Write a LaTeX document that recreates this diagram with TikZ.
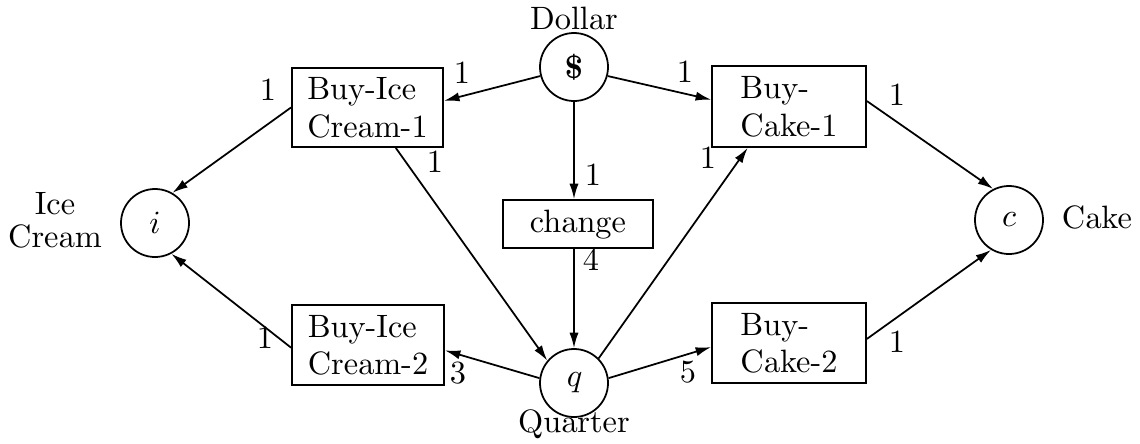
\documentclass[tikz,border=0pt]{standalone}
\usetikzlibrary{arrows.meta,calc}
\font\cmrbig=cmr10 at 23pt
\font\cmmibig=cmmi10 at 23pt
\font\cmbxbig=cmbx10 at 23pt
\begin{document}
\begin{tikzpicture}[x=0.025cm,y=-0.025cm,
  every node/.style={font={\fontsize{23}{26.5}\selectfont\cmrbig}},
  place/.style={draw,circle,line width=1.25pt,minimum size=1.7cm,inner sep=0pt},
  trans/.style={draw,rectangle,line width=1.25pt,align=left,inner sep=0pt},
  arc/.style={line width=1.25pt,-{Latex[length=11pt,width=6.5pt]}},
  lab/.style={anchor=base,inner sep=0pt}]
\useasboundingbox (0,0) rectangle (1140,443);
% places
\node[place] (dollar) at (574,67) {\cmbxbig\char36};
\node[place] (i) at (155,223) {\cmmibig i};
\node[place] (c) at (1009,220) {\cmmibig c};
\node[place] (q) at (574,383) {\cmmibig q};
% place labels
\node[lab] (ldollar) at (574,29) {Dollar};
\node[lab] (lquarter) at (574,432) {Quarter};
\node[lab,align=center,font={\fontsize{23}{23}\selectfont\cmrbig}] (lice) at (55,247) {Ice\\Cream};
\node[lab] (lcake) at (1097,228) {Cake};
% transitions
\node[trans,minimum width=3.78cm,minimum height=1.98cm] (bi1) at (367.5,107.5) {Buy-Ice\\Cream-1};
\node[trans,minimum width=3.85cm,minimum height=2.02cm] (bc1) at (789,106.5) {Buy-\\Cake-1};
\node[trans,minimum width=3.75cm,minimum height=1.2cm,align=center] (change) at (578,224) {change};
\node[trans,minimum width=3.8cm,minimum height=2cm] (bi2) at (368,345) {Buy-Ice\\Cream-2};
\node[trans,minimum width=3.85cm,minimum height=2cm] (bc2) at (789,343) {Buy-\\Cake-2};
% arcs
\draw[arc] (dollar.195) -- (bi1.5);
\draw[arc] (dollar.-15) -- (bc1.175);
\draw[arc] (dollar.south) -- (dollar.south |- change.north);
\draw[arc] (dollar.south |- change.south) -- (q.north);
\draw[arc] (bi1.-55) -- (q.140);
\draw[arc] (q.45) -- (bc1.-135);
\draw[arc] (q.172) -- (bi2.-4);
\draw[arc] (q.8) -- (bc2.183);
\draw[arc] (bi1.west) -- (i.60);
\draw[arc] (bi2.182) -- (i.-62);
\draw[arc] (bc1.4) -- (c.117);
\draw[arc] (bc2.3) -- (c.239);
% weights
\node[lab] (w1) at (462,83) {1};
\node[lab] (w2) at (268,100) {1};
\node[lab] (w3) at (435,172) {1};
\node[lab] (w4) at (685,82) {1};
\node[lab] (w5) at (593,185) {1};
\node[lab] (w6) at (591,270) {4};
\node[lab] (w7) at (458,383) {3};
\node[lab] (w8) at (688,382) {5};
\node[lab] (w9) at (265,348) {1};
\node[lab] (w10) at (708,168) {1};
\node[lab] (w11) at (897,105) {1};
\node[lab] (w12) at (897,352) {1};
\end{tikzpicture}
\end{document}
